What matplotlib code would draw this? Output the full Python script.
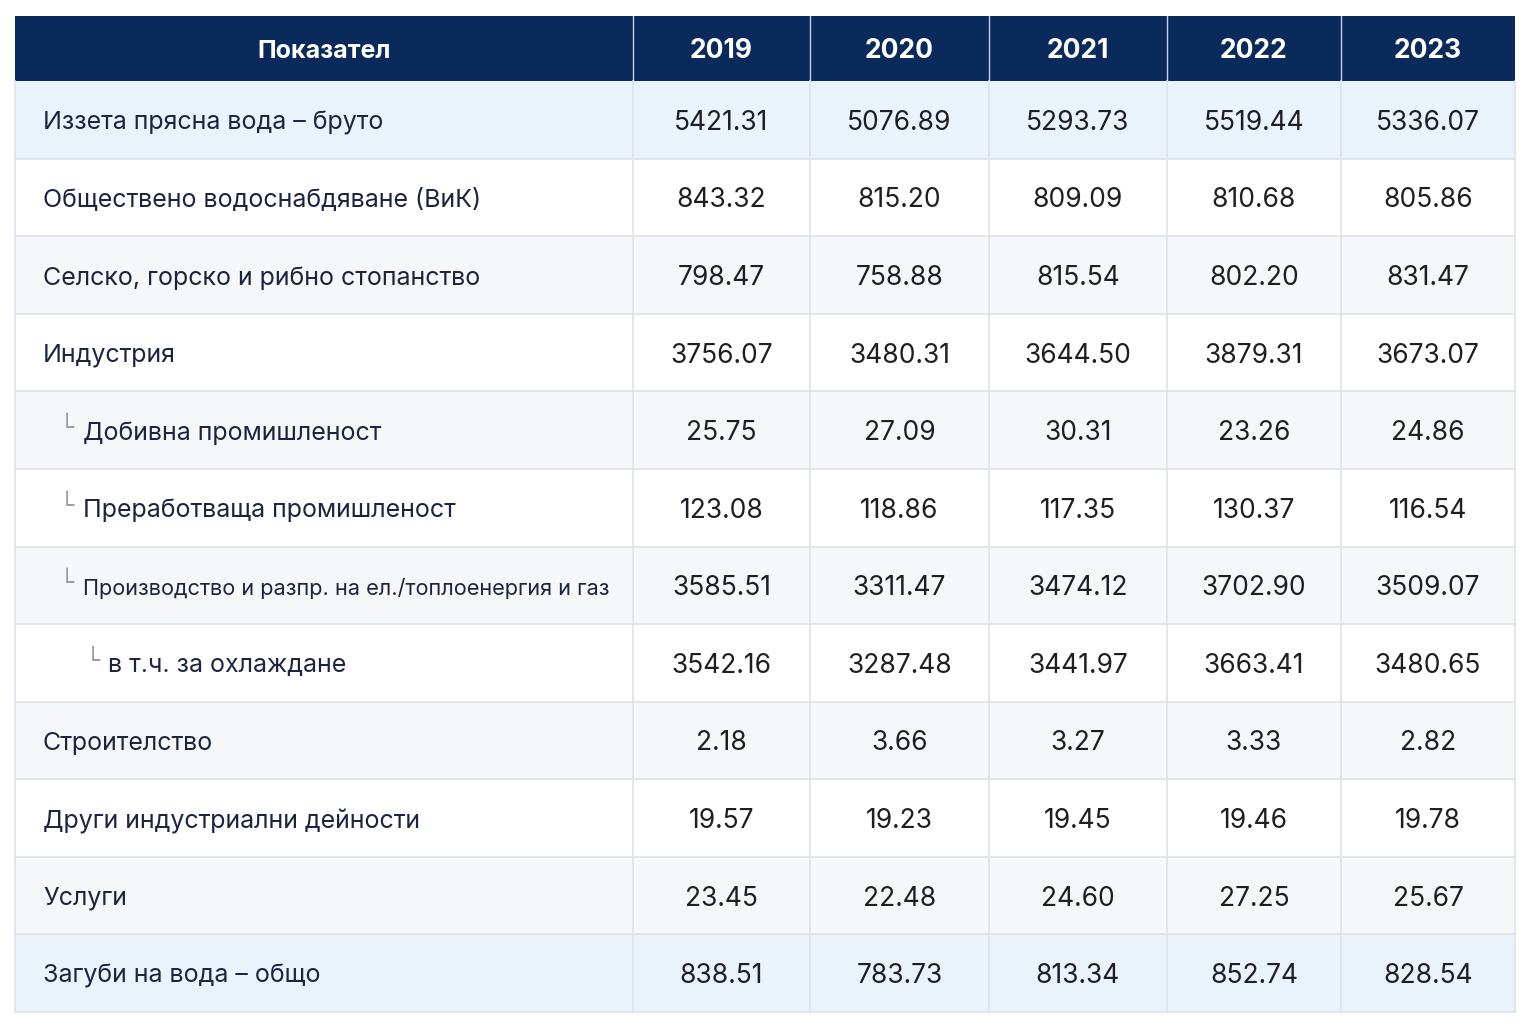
import matplotlib
matplotlib.use("Agg")
import matplotlib.pyplot as plt
from matplotlib.patches import Rectangle
import numpy as np

plt.rcParams['font.family'] = ['Inter', 'DejaVu Sans']

# table content
header_label = "Показател"
years = ["2019", "2020", "2021", "2022", "2023"]
row_labels = [
    "Иззета прясна вода – бруто",
    "Обществено водоснабдяване (ВиК)",
    "Селско, горско и рибно стопанство",
    "Индустрия",
    "Добивна промишленост",
    "Преработваща промишленост",
    "Производство и разпр. на ел./топлоенергия и газ",
    "в т.ч. за охлаждане",
    "Строителство",
    "Други индустриални дейности",
    "Услуги",
    "Загуби на вода – общо",
]
row_levels = [0, 0, 0, 0, 1, 1, 1, 2, 0, 0, 0, 0]
values = [
    ["5421.31", "5076.89", "5293.73", "5519.44", "5336.07"],
    ["843.32", "815.20", "809.09", "810.68", "805.86"],
    ["798.47", "758.88", "815.54", "802.20", "831.47"],
    ["3756.07", "3480.31", "3644.50", "3879.31", "3673.07"],
    ["25.75", "27.09", "30.31", "23.26", "24.86"],
    ["123.08", "118.86", "117.35", "130.37", "116.54"],
    ["3585.51", "3311.47", "3474.12", "3702.90", "3509.07"],
    ["3542.16", "3287.48", "3441.97", "3663.41", "3480.65"],
    ["2.18", "3.66", "3.27", "3.33", "2.82"],
    ["19.57", "19.23", "19.45", "19.46", "19.78"],
    ["23.45", "22.48", "24.60", "27.25", "25.67"],
    ["838.51", "783.73", "813.34", "852.74", "828.54"],
]
highlight_rows = [0, 11]

# layout in pixels
W, H = 1530, 1028
col_edges = [15, 633, 810, 989, 1167, 1341, 1515]
head_top, head_bot = 16, 81
table_bot = 1012
row_edges = np.linspace(head_bot, table_bot, len(row_labels) + 1)

navy = "#0b2a5c"
blue_bg = "#eaf2fc"
gray_bg = "#f6f7f9"
grid = "#dfe2e8"
label_col = "#1c2440"
num_col = "#1e1e24"
fs_lab = 18.0
fs_num = 19.0
dy = 3  # nudge text down to visual centre

fig = plt.figure(figsize=(W / 100, H / 100), dpi=100)
ax = fig.add_axes([0, 0, 1, 1])
ax.set_xlim(0, W)
ax.set_ylim(H, 0)
ax.axis("off")

# header
ax.add_patch(Rectangle((col_edges[0], head_top), col_edges[-1] - col_edges[0],
                       head_bot - head_top, facecolor=navy, edgecolor="none"))
for x in col_edges[1:-1]:
    ax.plot([x, x], [head_top, head_bot], color="#c9d0dc", lw=1.0)
hy = (head_top + head_bot) / 2 + dy
ax.text((col_edges[0] + col_edges[1]) / 2, hy, header_label, color="white",
        fontsize=fs_lab, fontweight="bold", ha="center", va="center")
for j, y in enumerate(years):
    ax.text((col_edges[j + 1] + col_edges[j + 2]) / 2, hy, y, color="white",
            fontsize=fs_num, fontweight="bold", ha="center", va="center")

# body
for i, lab in enumerate(row_labels):
    y0, y1 = row_edges[i], row_edges[i + 1]
    if i in highlight_rows:
        bg = blue_bg
    elif i % 2 == 0:
        bg = gray_bg
    else:
        bg = "white"
    ax.add_patch(Rectangle((col_edges[0], y0), col_edges[-1] - col_edges[0],
                           y1 - y0, facecolor=bg, edgecolor="none"))
    yc = (y0 + y1) / 2 + dy
    lvl = row_levels[i]
    if lvl == 0:
        ax.text(43, yc, lab, color=label_col, fontsize=fs_lab, ha="left", va="center")
    else:
        gx = 60 if lvl == 1 else 86
        tx = 83 if lvl == 1 else 108
        ax.text(gx, yc - 5, "└", color="#9aa0aa", fontsize=17,
                family="DejaVu Sans", ha="left", va="center")
        size = fs_lab if len(lab) < 40 else 15.6
        ax.text(tx, yc, lab, color=label_col, fontsize=size, ha="left", va="center")
    for j, v in enumerate(values[i]):
        ax.text((col_edges[j + 1] + col_edges[j + 2]) / 2, yc, v, color=num_col,
                fontsize=fs_num, ha="center", va="center")

# grid lines
for y in row_edges[1:]:
    ax.plot([col_edges[0], col_edges[-1]], [y, y], color=grid, lw=1.2)
for x in col_edges:
    ax.plot([x, x], [head_bot, table_bot], color=grid, lw=1.2)

fig.savefig("out.png", dpi=100)
